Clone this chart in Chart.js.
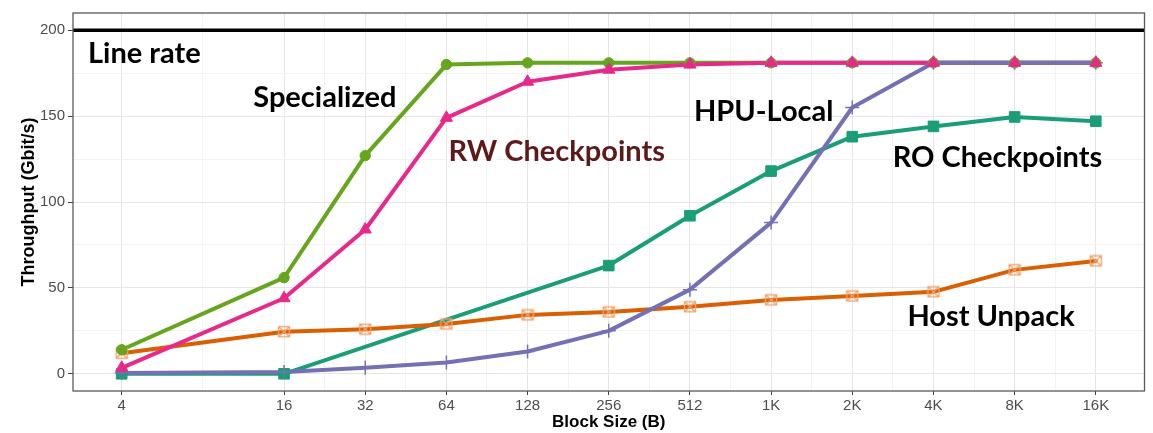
<!DOCTYPE html>
<html>
<head>
<meta charset="utf-8">
<script src="https://cdn.jsdelivr.net/npm/chart.js@4.4.0/dist/chart.umd.min.js"></script>
<style>
  html, body { margin: 0; padding: 0; background: #ffffff; }
  #wrap { width: 1153px; height: 433px; position: relative; }
</style>
</head>
<body>
<div id="wrap"><canvas id="chart" width="1153" height="433"></canvas></div>
<script>
// Block sizes (bytes) and their axis labels
const blockSizes = [4, 16, 32, 64, 128, 256, 512, 1024, 2048, 4096, 8192, 16384];
const tickLabels = ['4', '16', '32', '64', '128', '256', '512', '1K', '2K', '4K', '8K', '16K'];

// Throughput per block size (Gbit/s)
const specialized   = [14, 56, 127, 180, 181, 181, 181, 181, 181, 181, 181, 181];
const rwCheckpoints = [3.5, 44, 84, 149, 170, 177, 180, 181, 181, 181, 181, 181];
const hpuLocal      = [0.5, 1, 3.5, 6.6, 13, 25, 49, 88, 155, 181, 181, 181];
const roCheckpoints = [0, 0, null, null, null, 63, 92, 118, 138, 144, 149.5, 147];
const hostUnpack    = [12, 24.5, 26, 29, 34.3, 36, 39, 43, 45.3, 47.7, 60.5, 65.7];

const yTicks = [0, 50, 100, 150, 200];
const lineRate = 200;

// Text labels placed next to the curves (data coordinates of left/baseline)
const curveLabels = [
  { text: 'Line rate',      x: 3.0,  y: 180.8, color: '#000000' },
  { text: 'Specialized',    x: 12.3, y: 155.2, color: '#000000' },
  { text: 'RW Checkpoints', x: 65.2, y: 123.8, color: '#5c1a1b' },
  { text: 'HPU-Local',      x: 530,  y: 147.1, color: '#000000' },
  { text: 'RO Checkpoints', x: 2893, y: 120.3, color: '#000000' },
  { text: 'Host Unpack',    x: 3280, y: 27.9,  color: '#000000' }
];

// ---- scale helpers ----
const labelFor = new Map(blockSizes.map((v, i) => [v, tickLabels[i]]));
const minorX = blockSizes.slice(1).map((v, i) => Math.sqrt(v * blockSizes[i]));
const minorY = yTicks.slice(1).map((v, i) => (v + yTicks[i]) / 2);
const isMajorX = v => labelFor.has(v);
const isMajorY = v => yTicks.includes(v);

function hostMarker() {
  const c = document.createElement('canvas');
  c.width = 14; c.height = 13;
  const g = c.getContext('2d');
  g.strokeStyle = '#f0a46e';
  g.lineWidth = 1.4;
  g.strokeRect(1.5, 1.5, 11, 10);
  g.beginPath();
  g.moveTo(1.5, 1.5); g.lineTo(12.5, 11.5);
  g.moveTo(12.5, 1.5); g.lineTo(1.5, 11.5);
  g.stroke();
  return c;
}

const series = [
  { name: 'RO Checkpoints', values: roCheckpoints, color: '#1b9e77', pointStyle: 'rect',     radius: 7.5, lineOrder: 14, pointOrder: 3 },
  { name: 'Host Unpack',    values: hostUnpack,    color: '#d95f02', pointStyle: hostMarker(), radius: 6, lineOrder: 13, pointOrder: 4 },
  { name: 'HPU-Local',      values: hpuLocal,      color: '#7570b3', pointStyle: 'cross',    radius: 7,   lineOrder: 10, pointOrder: 2 },
  { name: 'RW Checkpoints', values: rwCheckpoints, color: '#e7298a', pointStyle: 'triangle', radius: 7,   lineOrder: 11, pointOrder: 0 },
  { name: 'Specialized',    values: specialized,   color: '#66a61e', pointStyle: 'circle',   radius: 5.2, lineOrder: 12, pointOrder: 1 }
];

const toPoints = vals => blockSizes.map((b, i) => ({ x: b, y: vals[i] })).filter(p => p.y !== null);

const datasets = [];
series.forEach(s => {
  datasets.push({
    label: s.name,
    data: toPoints(s.values),
    borderColor: s.color,
    borderWidth: 4,
    pointRadius: 0,
    showLine: true,
    spanGaps: true,
    tension: 0,
    borderJoinStyle: 'round',
    borderCapStyle: 'round',
    order: s.lineOrder
  });
  datasets.push({
    label: s.name + ' points',
    data: toPoints(s.values),
    showLine: false,
    pointStyle: s.pointStyle,
    pointRadius: s.radius,
    pointBackgroundColor: s.color,
    pointBorderColor: s.color,
    pointBorderWidth: s.pointStyle === 'cross' ? 1.5 : 1,
    order: s.pointOrder
  });
});

const panelPlugin = {
  id: 'panel',
  beforeDatasetsDraw(chart) {
    const { ctx, chartArea: a, scales } = chart;
    const y = scales.y.getPixelForValue(lineRate);
    ctx.save();
    ctx.strokeStyle = '#000000';
    ctx.lineWidth = 3.5;
    ctx.beginPath();
    ctx.moveTo(a.left, y);
    ctx.lineTo(a.right, y);
    ctx.stroke();
    ctx.restore();
  },
  afterDatasetsDraw(chart) {
    const { ctx, chartArea: a, scales } = chart;
    ctx.save();
    ctx.font = 'bold 29px Lato';
    ctx.textAlign = 'left';
    ctx.textBaseline = 'alphabetic';
    curveLabels.forEach(l => {
      ctx.fillStyle = l.color;
      ctx.fillText(l.text, scales.x.getPixelForValue(l.x), scales.y.getPixelForValue(l.y));
    });
    ctx.strokeStyle = '#5a5a5a';
    ctx.lineWidth = 1.3;
    ctx.strokeRect(a.left, a.top, a.right - a.left, a.bottom - a.top);
    ctx.restore();
  }
};

new Chart(document.getElementById('chart'), {
  type: 'scatter',
  data: { datasets },
  options: {
    responsive: false,
    animation: false,
    layout: { padding: { left: 0, right: 5, top: 13, bottom: 0 } },
    plugins: { legend: { display: false }, tooltip: { enabled: false } },
    scales: {
      x: {
        type: 'logarithmic',
        min: Math.pow(2, 1.4),
        max: Math.pow(2, 14.6),
        afterBuildTicks: s => {
          s.ticks = [...blockSizes, ...minorX].sort((a, b) => a - b).map(v => ({ value: v }));
        },
        afterFit: s => { s.height = 42; },
        border: { display: false },
        grid: {
          color: c => (c.tick && isMajorX(c.tick.value)) ? '#e6e6e6' : '#f3f3f3',
          lineWidth: 1,
          tickColor: c => (c.tick && isMajorX(c.tick.value)) ? '#444444' : 'rgba(0,0,0,0)',
          tickLength: 4,
          tickWidth: 1
        },
        ticks: {
          autoSkip: false,
          maxRotation: 0,
          padding: 2,
          color: '#4d4d4d',
          font: { family: 'Liberation Sans, Arial, sans-serif', size: 15 },
          callback: v => labelFor.has(v) ? labelFor.get(v) : ''
        },
        title: {
          display: true,
          text: 'Block Size (B)',
          color: '#000000',
          font: { family: 'Liberation Sans, Arial, sans-serif', size: 17, weight: 'bold' },
          padding: { top: 0, bottom: 0 }
        }
      },
      y: {
        type: 'linear',
        min: -10,
        max: 210,
        afterBuildTicks: s => {
          s.ticks = [...yTicks, ...minorY].sort((a, b) => a - b).map(v => ({ value: v }));
        },
        afterFit: s => { s.width = 73; },
        border: { display: false },
        grid: {
          color: c => (c.tick && isMajorY(c.tick.value)) ? '#e6e6e6' : '#f3f3f3',
          lineWidth: 1,
          tickColor: c => (c.tick && isMajorY(c.tick.value)) ? '#444444' : 'rgba(0,0,0,0)',
          tickLength: 5,
          tickWidth: 1
        },
        ticks: {
          autoSkip: false,
          padding: 3,
          color: '#4d4d4d',
          font: { family: 'Liberation Sans, Arial, sans-serif', size: 15 },
          callback: v => isMajorY(v) ? String(v) : ''
        },
        title: {
          display: true,
          text: 'Throughput (Gbit/s)',
          color: '#000000',
          font: { family: 'Liberation Sans, Arial, sans-serif', size: 18, weight: 'bold' },
          padding: { top: 18, bottom: 0 }
        }
      }
    }
  },
  plugins: [panelPlugin]
});
</script>
</body>
</html>
